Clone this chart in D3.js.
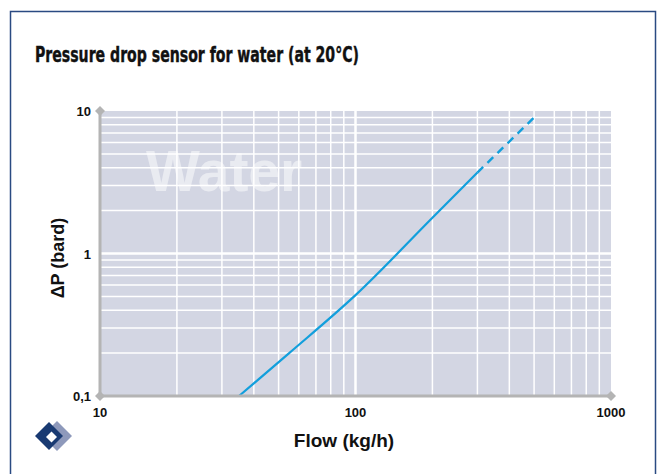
<!DOCTYPE html>
<html>
<head>
<meta charset="utf-8">
<script src="https://cdn.jsdelivr.net/npm/d3@7"></script>
<style>
  body { margin: 0; background: #fff; }
  svg { display: block; font-family: "Liberation Sans", Arial, sans-serif; }
</style>
</head>
<body>
<svg id="chart" width="661" height="474"></svg>
<script>
// data
const flowSolid = [35, 55, 100, 200, 300]
const dpSolid = [0.1, 0.2, 0.51, 1.78, 3.7]
const flowDashed = [300, 500]
const dpDashed = [3.7, 9.0]

const xTicks = [10, 100, 1000]
const xTickLabels = ["10", "100", "1000"]
const yTicks = [0.1, 1, 10]
const yTickLabels = ["0,1", "1", "10"]

const xMinor = [20, 30, 40, 50, 60, 70, 80, 90, 200, 300, 400, 500, 600, 700, 800, 900]
const yMinor = [0.2, 0.3, 0.4, 0.5, 0.6, 0.7, 0.8, 0.9, 2, 3, 4, 5, 6, 7, 8, 9]

const svg = d3.select('#chart')

// frame
svg.append('rect')
  .attr('x', 10.5).attr('y', 11.5)
  .attr('width', 645).attr('height', 480)
  .attr('fill', 'none')
  .attr('stroke', '#2a4a82')
  .attr('stroke-width', 1.5)

svg.append('text')
  .attr('x', 35).attr('y', 62)
  .attr('font-family', '"Liberation Sans Narrow", "DejaVu Sans Condensed", sans-serif')
  .attr('font-weight', 'bold')
  .attr('font-size', 21)
  .attr('textLength', 324)
  .attr('lengthAdjust', 'spacingAndGlyphs')
  .attr('fill', '#111')
  .attr('stroke', '#111').attr('stroke-width', 0.4)
  .text('Pressure drop sensor for water (at 20°C)')

const x = d3.scaleLog().domain([10, 1000]).range([100, 611])
const y = d3.scaleLog().domain([0.1, 10]).range([396, 111])

// plot background
svg.append('rect')
  .attr('x', x(10)).attr('y', y(10))
  .attr('width', x(1000) - x(10)).attr('height', y(0.1) - y(10))
  .attr('fill', '#d3d6e3')

const grid = svg.append('g').attr('stroke', '#fff')
grid.selectAll('.vx').data(xMinor).enter().append('line')
  .attr('x1', d => x(d)).attr('x2', d => x(d))
  .attr('y1', y(10)).attr('y2', y(0.1))
  .attr('stroke-width', 1.5)
grid.selectAll('.hy').data(yMinor).enter().append('line')
  .attr('y1', d => y(d)).attr('y2', d => y(d))
  .attr('x1', x(10)).attr('x2', x(1000))
  .attr('stroke-width', 1.5)
grid.append('line')
  .attr('x1', x(100)).attr('x2', x(100))
  .attr('y1', y(10)).attr('y2', y(0.1))
  .attr('stroke-width', 2.5)
grid.append('line')
  .attr('y1', y(1)).attr('y2', y(1))
  .attr('x1', x(10)).attr('x2', x(1000))
  .attr('stroke-width', 2.5)

// watermark
svg.append('text')
  .attr('x', 146).attr('y', 191)
  .attr('font-family', '"Liberation Sans", Arial, sans-serif')
  .attr('font-weight', 'bold')
  .attr('font-size', 57)
  .attr('fill', '#fff')
  .attr('fill-opacity', 0.5)
  .text('Water')

// curve
const line = d3.line().x(d => x(d[0])).y(d => y(d[1])).curve(d3.curveMonotoneX)
svg.append('path')
  .datum(d3.zip(flowSolid, dpSolid))
  .attr('d', line)
  .attr('fill', 'none')
  .attr('stroke', '#129fdc')
  .attr('stroke-width', 2.2)
svg.append('path')
  .datum(d3.zip(flowDashed, dpDashed))
  .attr('d', line)
  .attr('fill', 'none')
  .attr('stroke', '#129fdc')
  .attr('stroke-width', 2.4)
  .attr('stroke-dasharray', '8,6')

// axes
const axisColor = '#b4b4b4'
svg.append('line')
  .attr('x1', x(10)).attr('x2', x(10))
  .attr('y1', y(10)).attr('y2', y(0.1))
  .attr('stroke', axisColor).attr('stroke-width', 3)
svg.append('line')
  .attr('x1', x(10)).attr('x2', x(1000))
  .attr('y1', y(0.1)).attr('y2', y(0.1))
  .attr('stroke', axisColor).attr('stroke-width', 3)

const diamonds = [[x(10), y(10)], [x(10), y(0.1)], [x(1000), y(0.1)]]
svg.selectAll('.dia').data(diamonds).enter().append('path')
  .attr('d', d => `M${d[0]},${d[1] - 5}L${d[0] + 5},${d[1]}L${d[0]},${d[1] + 5}L${d[0] - 5},${d[1]}Z`)
  .attr('fill', axisColor)

// tick labels
svg.selectAll('.xt').data(xTicks).enter().append('text')
  .attr('x', d => x(d)).attr('y', 417)
  .attr('text-anchor', 'middle')
  .attr('font-weight', 'bold').attr('font-size', 13)
  .attr('fill', '#111')
  .text((d, i) => xTickLabels[i])
svg.selectAll('.yt').data(yTicks).enter().append('text')
  .attr('x', 91).attr('y', d => y(d) + 5)
  .attr('text-anchor', 'end')
  .attr('font-weight', 'bold').attr('font-size', 13)
  .attr('fill', '#111')
  .text((d, i) => yTickLabels[i])

// axis titles
svg.append('text')
  .attr('x', 344).attr('y', 447)
  .attr('text-anchor', 'middle')
  .attr('font-weight', 'bold').attr('font-size', 19)
  .attr('fill', '#111')
  .text('Flow (kg/h)')
svg.append('text')
  .attr('transform', 'translate(64,258) rotate(-90)')
  .attr('text-anchor', 'middle')
  .attr('font-weight', 'bold').attr('font-size', 18)
  .attr('fill', '#111')
  .text('ΔP (bard)')

// logo
const logo = svg.append('g')
const dia = (cx, cy, r) => `M${cx},${cy - r}L${cx + r},${cy}L${cx},${cy + r}L${cx - r},${cy}Z`
logo.append('path').attr('d', dia(57, 436, 15)).attr('fill', '#8e99bb')
logo.append('path').attr('d', dia(49, 436, 14)).attr('fill', '#193a72')
logo.append('path').attr('d', dia(51.5, 437, 5.5)).attr('fill', '#fff')
</script>
</body>
</html>
